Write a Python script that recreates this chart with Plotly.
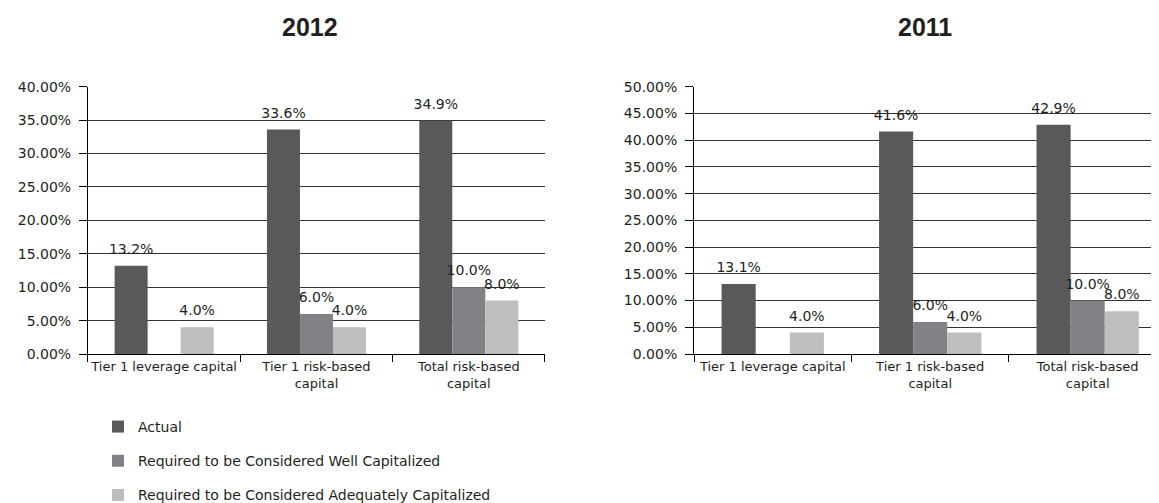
import plotly.graph_objects as go

categories = ["Tier 1 leverage capital", "Tier 1 risk-based<br>capital", "Total risk-based<br>capital"]
series_names = ["Actual", "Required to be Considered Well Capitalized", "Required to be Considered Adequately Capitalized"]
values_2012_actual = [13.2, 33.6, 34.9]
values_2012_well = [None, 6.0, 10.0]
values_2012_adequate = [4.0, 4.0, 8.0]
values_2011_actual = [13.1, 41.6, 42.9]
values_2011_well = [None, 6.0, 10.0]
values_2011_adequate = [4.0, 4.0, 8.0]
colors = ["#58595b", "#818285", "#bcbec0"]
titles = ["2012", "2011"]

TXT = "#231f20"
FONT = "DejaVu Sans, Liberation Sans, Arial, sans-serif"
TFONT = "Liberation Sans, Arial, sans-serif"


def label(v):
    if v is None:
        return None
    # number at 14px; a small empty second line lifts the label off the bar top
    return f"<span style='font-size:14px'>{v:.1f}%</span><br>\u00a0"


fig = go.Figure()
data = [
    [values_2012_actual, values_2012_well, values_2012_adequate],
    [values_2011_actual, values_2011_well, values_2011_adequate],
]
for pi, series in enumerate(data):
    xa = "x" if pi == 0 else "x2"
    ya = "y" if pi == 0 else "y2"
    for si, vals in enumerate(series):
        fig.add_trace(go.Bar(
            x=categories, y=vals, name=series_names[si],
            marker=dict(color=colors[si], line=dict(width=0)),
            text=[label(v) for v in vals],
            textposition="outside", cliponaxis=False, constraintext="none",
            textfont=dict(size=6, color=TXT, family=FONT),
            xaxis=xa, yaxis=ya, showlegend=(pi == 0),
            legendgroup=f"g{si}",
        ))

axis_common_x = dict(
    showline=True, linecolor="#000", linewidth=1,
    ticks="outside", tickson="boundaries", ticklen=7, tickcolor="#000",
    tickangle=0, automargin=False,
    showgrid=False, tickfont=dict(size=13, color=TXT, family=FONT),
)
axis_common_y = dict(
    showline=True, linecolor="#000", linewidth=1,
    ticks="outside", ticklen=8, tickcolor="#000",
    showgrid=True, gridcolor="#333", gridwidth=1, automargin=False,
    tickformat=".2f", ticksuffix="%", dtick=5, ticklabelstandoff=5,
    tickfont=dict(size=14, color=TXT, family=FONT), zeroline=False,
)

fig.update_layout(
    width=1159, height=503,
    margin=dict(l=0, r=0, t=0, b=0),
    paper_bgcolor="white", plot_bgcolor="white",
    barmode="group", bargap=0.35, bargroupgap=0,
    font=dict(family=FONT, color=TXT),
    xaxis=dict(domain=[0.069, 0.4633], anchor="y", **axis_common_x),
    yaxis=dict(domain=[0.3052, 0.842], anchor="x", range=[0, 40], **axis_common_y),
    xaxis2=dict(domain=[0.5919, 0.9995], anchor="y2", **axis_common_x),
    yaxis2=dict(domain=[0.3052, 0.842], anchor="x2", range=[0, 50], **axis_common_y),
    legend=dict(
        x=90 / 1159, y=1 - 407 / 503, xanchor="left", yanchor="top",
        orientation="v", traceorder="grouped", tracegroupgap=13,
        font=dict(size=14, color=TXT, family=FONT),
        itemwidth=30, bgcolor="rgba(0,0,0,0)",
    ),
    annotations=[
        dict(text=f"<b>{titles[0]}</b>", x=302 / 1159, y=1 - 19 / 503, xref="paper", yref="paper",
             showarrow=False, font=dict(size=25, color=TXT, family=TFONT), xanchor="center", yanchor="middle"),
        dict(text=f"<b>{titles[1]}</b>", x=917 / 1159, y=1 - 19 / 503, xref="paper", yref="paper",
             showarrow=False, font=dict(size=25, color=TXT, family=TFONT), xanchor="center", yanchor="middle"),
    ],
)

fig.write_html("out.html")
